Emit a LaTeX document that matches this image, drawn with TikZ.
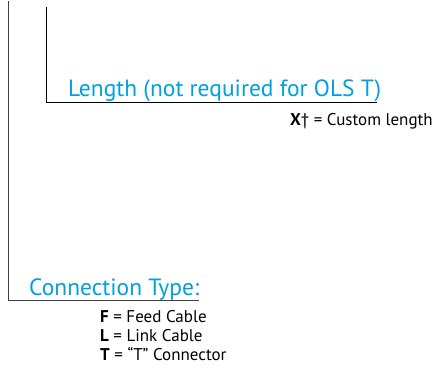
\documentclass[tikz,border=0pt]{standalone}
\usepackage{fontspec}
\setmainfont{PT Sans}
\usetikzlibrary{positioning}
\definecolor{olsblue}{RGB}{0,160,222}
\tikzset{
  head/.style={text=olsblue,font=\fontsize{23.5}{28}\selectfont,inner sep=0pt,anchor=base west},
  key/.style={font=\fontsize{17}{20}\selectfont,inner sep=0pt,anchor=base west},
  lead/.style={line width=0.9pt}
}
\begin{document}
\begin{tikzpicture}[x=1pt,y=-1pt]
\useasboundingbox (0,0) rectangle (446,373);
% corners of the two leaders
\coordinate (otop) at (8.5,1);
\coordinate (ocorner) at (8.5,300.5);
\coordinate (oend) at (199,300.5);
\coordinate (itop) at (46.5,7);
\coordinate (icorner) at (46.5,102.5);
\coordinate (iend) at (377,102.5);
\draw[lead,black!75] (otop) -- (ocorner) -- (oend);
\draw[lead] (itop) -- (icorner) -- (iend);
\node[head] (len) at (68,96.5) {Length (not required for OLS T)};
\node[key] (x) at (290,125.5) {\textbf{X}† = Custom length};
\node[head] (con) at (29,295) {Connection Type:};
\node[key] (f) at (100,322) {\textbf{F} = Feed Cable};
\node[key] (l) at (100,341) {\textbf{L} = Link Cable};
\node[key] (t) at (100,360) {\textbf{T} = “T” Connector};
\end{tikzpicture}
\end{document}
